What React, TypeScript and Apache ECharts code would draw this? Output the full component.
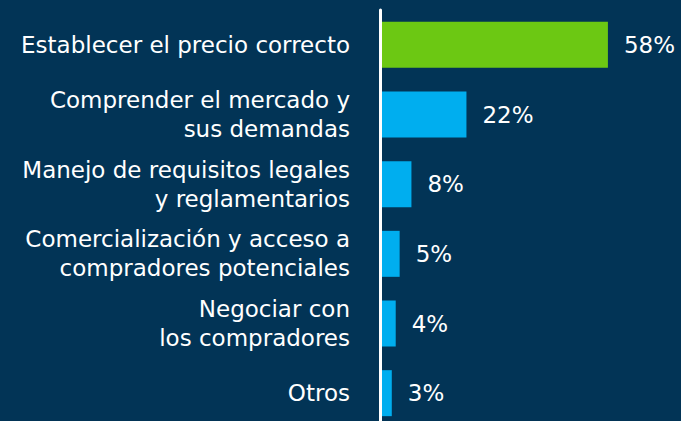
import React, { useEffect, useRef } from "react";
import * as echarts from "echarts";

const categories = [
  "Establecer el precio correcto",
  "Comprender el mercado y\nsus demandas",
  "Manejo de requisitos legales\ny reglamentarios",
  "Comercialización y acceso a\ncompradores potenciales",
  "Negociar con\nlos compradores",
  "Otros",
];
const values = [58, 22, 8, 5, 4, 3];
const barColors = ["#6CC813", "#00AEEF", "#00AEEF", "#00AEEF", "#00AEEF", "#00AEEF"];

export default function App() {
  const ref = useRef<HTMLDivElement>(null);
  useEffect(() => {
    document.documentElement.style.overflow = "hidden";
    document.body.style.margin = "0";
    document.body.style.overflow = "hidden";
    document.body.style.background = "#023456";
    const chart = echarts.init(ref.current!, null, { renderer: "svg" });
    chart.setOption({
      animation: false,
      backgroundColor: "#023456",
      grid: { left: 380, top: 10, right: 0, height: 418, containLabel: false },
      xAxis: {
        type: "value",
        min: 0,
        max: 76.6,
        show: false,
      },
      yAxis: {
        type: "category",
        data: categories,
        inverse: true,
        z: 5,
        axisLine: { show: true, lineStyle: { color: "#FFFFFF", width: 3 } },
        axisTick: { show: false },
        splitLine: { show: false },
        axisLabel: {
          color: "#FFFFFF",
          fontFamily: "DejaVu Sans, sans-serif",
          fontSize: 23,
          lineHeight: 29,
          margin: 30,
          align: "right",
          padding: [4, 0, 0, 0],
        },
      },
      series: [
        {
          type: "bar",
          data: values.map((v, i) => ({ value: v, itemStyle: { color: barColors[i] } })),
          barWidth: 46,
          label: {
            show: true,
            position: "right",
            distance: 16,
            color: "#FFFFFF",
            fontFamily: "DejaVu Sans, sans-serif",
            fontSize: 23,
            padding: [4, 0, 0, 0],
            formatter: "{c}%",
          },
        },
      ],
    });
    return () => chart.dispose();
  }, []);
  return <div ref={ref} style={{ width: 681, height: 428 }} />;
}
